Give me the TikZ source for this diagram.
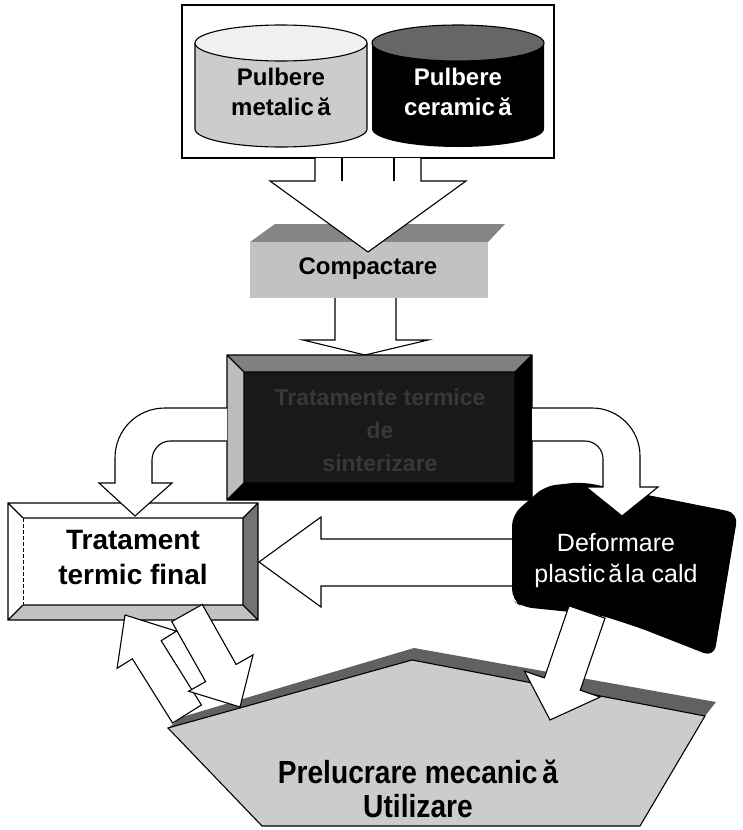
\documentclass[tikz,border=0pt]{standalone}
\usepackage{fontspec}
\setmainfont{Liberation Sans}
\newfontfamily\narrowfont{Liberation Sans}[FakeStretch=0.88]
\usetikzlibrary{calc}
\definecolor{cylL}{gray}{0.80}
\definecolor{cylLtop}{gray}{0.94}
\definecolor{cylRtop}{gray}{0.40}
\definecolor{compTop}{gray}{0.52}
\definecolor{compFront}{gray}{0.76}
\definecolor{darkTop}{gray}{0.50}
\definecolor{darkLeft}{gray}{0.74}
\definecolor{darkFace}{gray}{0.10}
\definecolor{darkText}{gray}{0.22}
\definecolor{tratRight}{gray}{0.45}
\definecolor{tratBottom}{gray}{0.76}
\definecolor{pentFill}{gray}{0.80}
\definecolor{pentBand}{gray}{0.38}
\newcommand\blockarrow[5]{%
  \coordinate (ban) at ($(#2)!#5!(#1)$);
  \filldraw[wa] ($(#1)!#3!90:(#2)$) -- ($(ban)!#3!-90:(#1)$) -- ($(ban)!#4!-90:(#1)$) -- (#2)
    -- ($(ban)!#4!90:(#1)$) -- ($(ban)!#3!90:(#1)$) -- ($(#1)!#3!-90:(#2)$) -- cycle;}
\newcommand\bevelbox[7]{%
  \path (#1.north west) coordinate (bvA) (#1.north east) coordinate (bvB)
        (#1.south east) coordinate (bvC) (#1.south west) coordinate (bvD);
  \path ($(bvA)+(#2,#2)$) coordinate (bva) ($(bvB)+(-#2,#2)$) coordinate (bvb)
        ($(bvC)+(-#2,-#2)$) coordinate (bvc) ($(bvD)+(#2,-#2)$) coordinate (bvd);
  \fill[#4] (bvA) -- (bvB) -- (bvb) -- (bva) -- cycle;
  \fill[#5] (bvA) -- (bva) -- (bvd) -- (bvD) -- cycle;
  \fill[#6] (bvB) -- (bvC) -- (bvc) -- (bvb) -- cycle;
  \fill[#7] (bvD) -- (bvd) -- (bvc) -- (bvC) -- cycle;
  \fill[#3] (bva) rectangle (bvc);
  \draw[lw] (bvA) rectangle (bvC) (bva) rectangle (bvc)
        (bvA) -- (bva) (bvB) -- (bvb) (bvC) -- (bvc) (bvD) -- (bvd);}
\begin{document}
\begin{tikzpicture}[x=1pt,y=-1pt,line join=miter,
  lw/.style={line width=1.1pt},
  wa/.style={fill=white,draw=black,line width=1.1pt,line join=miter},
  boxnode/.style={inner sep=0pt,outer sep=0pt},
  txtA/.style={font=\bfseries\fontsize{24}{30}\selectfont,align=center,inner sep=0pt},
  txtB/.style={font=\bfseries\fontsize{28}{35}\selectfont,align=center,inner sep=0pt},
  txtC/.style={font=\fontsize{25}{31}\selectfont,align=center,inner sep=0pt,text=white},
  txtD/.style={font=\narrowfont\bfseries\fontsize{32}{34}\selectfont,align=center,inner sep=0pt}]
\useasboundingbox (0,0) rectangle (743,830);

% ---------- top frame with the two cylinders ----------
\node[draw,line width=1.2pt,boxnode,minimum width=372pt,minimum height=153pt] (frame) at (368,81.5) {};
\fill[cylL] (195,43) -- (195,129) arc[start angle=180,end angle=0,x radius=86,y radius=18] -- (367,43) -- cycle;
\draw[lw] (195,43) -- (195,129) arc[start angle=180,end angle=0,x radius=86,y radius=18] -- (367,43);
\filldraw[fill=cylLtop,lw] (281,43) ellipse[x radius=86,y radius=18];
\fill[black] (372,43) -- (372,129) arc[start angle=180,end angle=0,x radius=86,y radius=18] -- (544,43) -- cycle;
\filldraw[fill=cylRtop,lw] (458,43) ellipse[x radius=86,y radius=18];
\node[txtA] (metal) at (281,92) {Pulbere\\metalic\hspace{0.15em}ă};
\node[txtA,text=white] (ceram) at (458,92) {Pulbere\\ceramic\hspace{0.15em}ă};

% ---------- Compactare ----------
\fill[compTop] (250,242) -- (275,224) -- (505,224) -- (488,242) -- cycle;
\fill[compFront] (250,242) rectangle (488,298);
\node[boxnode,minimum width=238pt,minimum height=56pt] (comp) at (369,270) {};
\node[font=\bfseries\fontsize{24}{28}\selectfont,inner sep=0pt] (comptext) at (368,269) {Compactare};

% merging arrow from the frame
\fill[white] (315,158) -- (315,181) -- (270,181) -- (368,252) -- (466,181) -- (421,181) -- (421,158) -- cycle;
\draw[lw] (315,158) -- (315,181) -- (270,181) -- (368,252) -- (466,181) -- (421,181) -- (421,158);
\draw[lw] (342,158) -- (342,181) (394,158) -- (394,181);

% arrow Compactare -> dark box
\fill[white] (335,298) -- (335,340) -- (303,340) -- (365,355) -- (428,340) -- (396,340) -- (396,298) -- cycle;
\draw[lw] (335,298) -- (335,340) -- (303,340) -- (365,355) -- (428,340) -- (396,340) -- (396,298);

% ---------- dark bevel box ----------
\node[boxnode,minimum width=305pt,minimum height=145pt] (sinter) at (379.5,427.5) {};
\bevelbox{sinter}{17}{darkFace}{darkTop}{darkLeft}{black}{black}
\node[font=\bfseries\fontsize{23}{33}\selectfont,align=center,inner sep=0pt,text=darkText] (sintertext) at (380,430) {Tratamente termice\\de\\sinterizare};

% ---------- Tratament termic final ----------
\node[boxnode,minimum width=250pt,minimum height=117pt] (trat) at (133,561.5) {};
\bevelbox{trat}{15}{white}{white}{white}{tratRight}{tratBottom}
\draw[white,line width=1.4pt] (bva) -- (bvd);
\draw[line width=1pt,dash pattern=on 4pt off 2pt] (bva) -- (bvd);
\node[txtB] (trattext) at (133,557.5) {Tratament\\termic final};

% arrow Deformare -> Tratament
\fill[white] (520,539) -- (321,539) -- (321,517) -- (259,562) -- (321,607) -- (321,586) -- (520,586) -- cycle;
\draw[lw] (520,539) -- (321,539) -- (321,517) -- (259,562) -- (321,607) -- (321,586) -- (520,586);

% ---------- Deformare plastica ----------
\fill[black,rounded corners=11pt] (512,600) -- (512,515) -- (545,486) -- (582,482) -- (738,513) -- (714,657) -- (640,628) -- (600,615) -- (522,607) -- cycle;
\node[boxnode,minimum width=200pt,minimum height=100pt] (deform) at (620,565) {};
\node[txtC] (deftext) at (616,561) {Deformare\\plastic\hspace{0.12em}ă\hspace{0.12em}la cald};

% curved arrows from the dark box
\fill[white] (227,408) -- (165,408) .. controls (137,408) and (115,430) .. (115,458) -- (115,483) -- (99,483) -- (135,516) -- (172,483) -- (152,483) -- (152,460) .. controls (152,450) and (160,441) .. (170,441) -- (227,441) -- cycle;
\draw[lw] (227,408) -- (165,408) .. controls (137,408) and (115,430) .. (115,458) -- (115,483) -- (99,483) -- (135,516) -- (172,483) -- (152,483) -- (152,460) .. controls (152,450) and (160,441) .. (170,441) -- (227,441);
\fill[white] (532,408) -- (592,408) .. controls (618.5,408) and (640,429.5) .. (640,456) -- (640,487) -- (658,487) -- (622,516) -- (586,487) -- (603,487) -- (603,459) .. controls (603,449) and (595,441) .. (585,441) -- (532,441) -- cycle;
\draw[lw] (532,408) -- (592,408) .. controls (618.5,408) and (640,429.5) .. (640,456) -- (640,487) -- (658,487) -- (622,516) -- (586,487) -- (603,487) -- (603,459) .. controls (603,449) and (595,441) .. (585,441) -- (532,441);

% ---------- Prelucrare mecanica ----------
\fill[pentBand] (168,728) -- (412,660) -- (705,716) -- (716,702) -- (414,648) -- (182,717) -- cycle;
\filldraw[fill=pentFill,lw] (168,728) -- (412,660) -- (705,716) -- (640,826) -- (262,826) -- cycle;
\node[boxnode,minimum width=540pt,minimum height=160pt] (prel) at (435,745) {};
\node[txtD] (preltext) at (418,789) {Prelucrare mecanic\hspace{0.15em}ă\\Utilizare};

% arrows between Tratament, Deformare and Prelucrare
\coordinate (upT) at (187,714); \coordinate (upH) at (125,615);
\blockarrow{upT}{upH}{17pt}{35pt}{41pt}
\coordinate (dnT) at (187,613); \coordinate (dnH) at (240,707);
\blockarrow{dnT}{dnH}{17.5pt}{37pt}{39pt}
\coordinate (rdT) at (587,612); \coordinate (rdH) at (550,720);
\blockarrow{rdT}{rdH}{19pt}{40pt}{38pt}
\end{tikzpicture}
\end{document}
